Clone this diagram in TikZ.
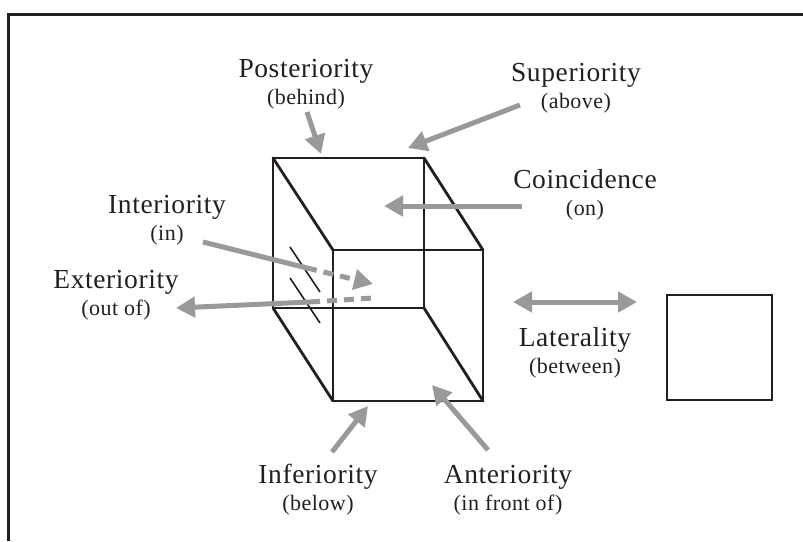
\documentclass[tikz,border=0pt]{standalone}
\usepackage{fontspec}
\setmainfont[LetterSpace=2.2]{Liberation Serif}
\usepackage{xcolor}
\usetikzlibrary{arrows.meta,positioning}
\definecolor{inkline}{HTML}{231F20}
\definecolor{pointer}{HTML}{999999}
\newcommand{\gloss}[1]{{\fontsize{22}{27}\selectfont #1}}

\begin{document}
\begin{tikzpicture}[
    x=1pt, y=-1pt,
    term/.style={anchor=base, align=center, inner sep=0pt, text=inkline,
                 font=\fontsize{27.5}{27}\selectfont},
    cubeedge/.style={draw=inkline, line width=2.8pt, line cap=round},
    slash/.style={draw=inkline, line width=1.6pt},
    shaft/.style={draw=pointer, line width=5pt},
    pointerarrow/.style={shaft, -{Triangle[length=19pt,width=20pt]}},
    bothways/.style={shaft, {Triangle[length=19pt,width=20pt]}-{Triangle[length=19pt,width=20pt]}}
]
\useasboundingbox (0,0) rectangle (803,541);

% Outer frame, open to the right and below
\draw[draw=inkline, line width=3pt] (803,14) -- (8,14) -- (8,541);

% Corners of the cube
\coordinate (backTL) at (273,158);
\coordinate (backTR) at (424,158);
\coordinate (backBL) at (273,308);
\coordinate (backBR) at (424,308);
\coordinate (frontTL) at (333,250);
\coordinate (frontTR) at (483,250);
\coordinate (frontBL) at (333,401);
\coordinate (frontBR) at (483,401);

\draw[cubeedge] (backTL) -- (backTR) -- (backBR) -- (backBL) -- cycle;
\draw[cubeedge] (frontTL) -- (frontTR) -- (frontBR) -- (frontBL) -- cycle;
\draw[cubeedge] (backTL) -- (frontTL);
\draw[cubeedge] (backTR) -- (frontTR);
\draw[cubeedge] (backBL) -- (frontBL);
\draw[cubeedge] (backBR) -- (frontBR);

% Marks on the left face
\coordinate (slashA) at (290,247);
\coordinate (slashB) at (320,292);
\coordinate (slashC) at (290,278);
\coordinate (slashD) at (320,323);
\draw[slash] (slashA) -- (slashB);
\draw[slash] (slashC) -- (slashD);

\node[draw=inkline, line width=2.4pt, minimum size=105pt, inner sep=0pt] (square) at (719.5,347.5) {};

\node[term] (posteriority) at (306,104) {Posteriority\\\gloss{(behind)}};
\node[term] (superiority) at (576,108) {Superiority\\\gloss{(above)}};
\node[term] (coincidence) at (585,215) {Coincidence\\\gloss{(on)}};
\node[term] (interiority) at (167,240) {Interiority\\\gloss{(in)}};
\node[term] (exteriority) at (116,315) {Exteriority\\\gloss{(out of)}};
\node[term] (laterality) at (575,373) {Laterality\\\gloss{(between)}};
\node[term] (inferiority) at (318,510) {Inferiority\\\gloss{(below)}};
\node[term] (anteriority) at (508,510) {Anteriority\\\gloss{(in front of)}};

% Ends of the pointers
\coordinate (postStart) at (307,112);
\coordinate (postTip) at (321,154);
\coordinate (supStart) at (520,105);
\coordinate (supTip) at (408,148);
\coordinate (coinStart) at (522,206);
\coordinate (coinTip) at (384,206);
\coordinate (inStart) at (203,242);
\coordinate (inBreak) at (307,268);
\coordinate (inTip) at (373,284);
\coordinate (outEnd) at (373,298);
\coordinate (outBreak) at (310,302);
\coordinate (outTip) at (176,308);
\coordinate (latLeft) at (513,302);
\coordinate (latRight) at (637,302);
\coordinate (infStart) at (332,452);
\coordinate (infTip) at (368,406);
\coordinate (antStart) at (488,450);
\coordinate (antTip) at (432,385);

\draw[pointerarrow] (postStart) -- (postTip);
\draw[pointerarrow] (supStart) -- (supTip);
\draw[pointerarrow] (coinStart) -- (coinTip);
\draw[shaft] (inStart) -- (inBreak);
\draw[pointerarrow, dash pattern=on 10pt off 7pt] (inBreak) -- (inTip);
\draw[pointerarrow] (outBreak) -- (outTip);
\draw[shaft, dash pattern=on 10pt off 7pt] (outBreak) -- (outEnd);
\draw[bothways] (latLeft) -- (latRight);
\draw[pointerarrow] (infStart) -- (infTip);
\draw[pointerarrow] (antStart) -- (antTip);
\end{tikzpicture}
\end{document}
